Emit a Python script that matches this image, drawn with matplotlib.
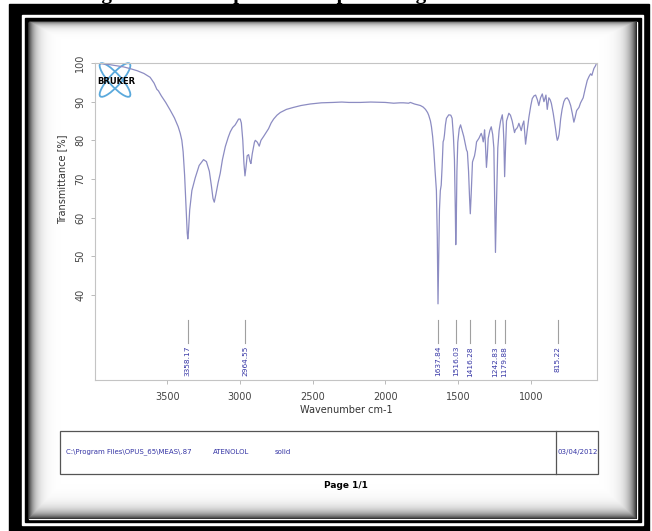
import numpy as np
import matplotlib
matplotlib.use("Agg")
import matplotlib.pyplot as plt
from matplotlib.patches import Rectangle, Ellipse

# spectrum: wavenumber (cm-1) and transmittance (%)
wavenumber = [3996, 3950, 3900, 3850, 3800, 3750, 3706, 3660, 3617, 3590, 3571, 3560,
              3540, 3510, 3479, 3450, 3424, 3410, 3399, 3390, 3380, 3370, 3362, 3358,
              3354, 3345, 3330, 3307, 3280, 3250, 3230, 3210, 3195, 3185, 3176, 3165,
              3150, 3135, 3120, 3100, 3080, 3066, 3050, 3032, 3020, 3009, 2998, 2990,
              2980, 2972, 2965, 2958, 2950, 2940, 2930, 2924, 2915, 2900, 2894, 2880,
              2867, 2855, 2837, 2820, 2803, 2785, 2768, 2745, 2722, 2680, 2633, 2580,
              2516, 2440, 2358, 2300, 2250, 2172, 2100, 2000, 1943, 1900, 1875, 1840,
              1828, 1800, 1759, 1740, 1724, 1710, 1702, 1690, 1683, 1675, 1667, 1658,
              1649, 1643, 1638, 1633, 1628, 1622, 1616, 1610, 1603, 1598, 1594, 1587,
              1580, 1564, 1550, 1541, 1532, 1525, 1519, 1516, 1512, 1508, 1502, 1492,
              1483, 1472, 1461, 1450, 1442, 1436, 1428, 1421, 1416, 1410, 1401, 1387,
              1380, 1373, 1357, 1341, 1334, 1327, 1322, 1318, 1312, 1305, 1299, 1293,
              1282, 1272, 1262, 1254, 1249, 1243, 1237, 1227, 1218, 1208, 1196, 1190,
              1185, 1180, 1173, 1167, 1151, 1140, 1128, 1120, 1112, 1105, 1098, 1090,
              1082, 1074, 1066, 1057, 1048, 1042, 1036, 1025, 1013, 1000, 990, 978,
              967, 955, 945, 933, 921, 910, 903, 896, 887, 876, 867, 859,
              846, 838, 830, 823, 818, 812, 806, 800, 795, 785, 773, 762,
              750, 738, 726, 715, 704, 695, 685, 669, 658, 640, 625, 612,
              600, 589, 580, 575, 566, 555, 548]
transmittance = [100, 99.8, 99.6, 99.3, 99.0, 98.5, 98.0, 97.3, 96.3, 94.8, 93.2, 92.8,
                 91.5, 89.8, 87.8, 85.8, 83.5, 81.8, 80.0, 77, 71, 63, 56, 54.5,
                 56, 62, 67, 70.3, 73.5, 75.0, 74.5, 72, 68, 65, 64, 66,
                 69, 71.5, 75, 78.4, 80.8, 82.2, 83.3, 84, 84.8, 85.5, 85.5, 84.5,
                 80, 74, 70.8, 73, 76, 76.3, 74.5, 74, 76.5, 79.5, 80, 79.5,
                 78.5, 80, 81, 82, 83, 84.5, 85.5, 86.5, 87.2, 88, 88.5, 89,
                 89.4, 89.7, 89.8, 89.9, 89.8, 89.8, 89.9, 89.8, 89.6, 89.7, 89.7, 89.6,
                 89.8, 89.4, 89.0, 88.6, 88.0, 87.2, 86.5, 85, 83.5, 81, 77.5, 72,
                 67, 55, 37.7, 50, 62, 67, 68.4, 73, 79.6, 80.2, 81.3, 84,
                 85.7, 86.6, 86.5, 85.7, 81, 75, 62, 53, 60, 72, 79.5, 83,
                 84, 82.5, 81, 79, 77.5, 77, 72, 65, 61, 66, 74.4, 76,
                 77.5, 79.6, 80.5, 81.8, 81, 79.6, 81, 82.7, 79, 73, 76, 80.5,
                 82.5, 83.5, 81.5, 78, 65, 51, 62, 78, 82.5, 85, 86.6, 84,
                 79.6, 70.6, 79, 85, 87, 86.5, 85, 83.5, 82, 82.8, 83, 83.5,
                 84.4, 83.5, 82.5, 84, 85, 82, 79, 82.5, 86, 89, 90.8, 91.5,
                 91.7, 90.5, 89, 91, 92, 90, 90.8, 91.7, 88, 91, 90.5, 89.6,
                 87, 85, 83, 81, 80, 80.5, 81.5, 83.5, 85.5, 88, 90, 90.8,
                 91, 90.3, 89, 87, 84.7, 86, 87.7, 88.5, 89.7, 91, 93.5, 95.5,
                 96.5, 97.2, 96.8, 97.5, 98.6, 99.3, 100]

peaks = [3358.17, 2964.55, 1637.84, 1516.03, 1416.28, 1242.83, 1179.88, 815.22]
x_ticks = [3500, 3000, 2500, 2000, 1500, 1000]
y_ticks = [40, 50, 60, 70, 80, 90, 100]

W, H = 652, 531
fig = plt.figure(figsize=(W / 100, H / 100), dpi=100)

# background in pixel coordinates: black frame, page with shadow
bg = fig.add_axes([0, 0, 1, 1])
bg.add_patch(Rectangle((9, 4), 640, 530, color="black"))
bg.add_patch(Rectangle((22, 15), 621, 510, color="white"))
bg.add_patch(Rectangle((25, 18), 616, 504, color="black"))
bg.add_patch(Rectangle((29, 22), 608, 497, color="white"))

px0, py0, px1, py1 = 29, 22, 637, 519
xx = np.arange(px0, px1) + 0.5
yy = np.arange(py0, py1) + 0.5
X, Y = np.meshgrid(xx, yy)
shade = np.maximum.reduce([
    0.75 * np.exp(-(X - px0) / 6.0),
    0.9 * np.exp(-(px1 - X) / 7.0),
    0.85 * np.exp(-(py1 - Y) / 6.5),
    0.55 * np.exp(-(Y - py0) / 3.5),
])
rgba = np.zeros(shade.shape + (4,))
rgba[..., 3] = shade
bg.imshow(rgba, extent=(px0, px1, py1, py0), interpolation="bilinear",
          aspect="auto", zorder=3)
bg.set_xlim(0, W)
bg.set_ylim(H, 0)
bg.axis("off")

# caption cut off at the top (only the descenders show)
bg.text(83, -1.5, "Figure 1: FTIR spectrum of pure drug", fontsize=15, fontweight="bold",
        family="Liberation Serif", va="baseline", ha="left")

# Bruker logo
for ang in (48, -48):
    bg.add_patch(Ellipse((115, 80), 44, 12, angle=ang, fill=False, ec="#5aa9dc",
                         lw=1.3, zorder=4))
bg.text(116, 81, "BRUKER", fontsize=6, fontweight="bold", ha="center", va="center",
        color="black", family="DejaVu Sans", zorder=5)

# info box below the plot
bg.add_patch(Rectangle((60, 431), 538, 43, fill=False, ec="#555555", lw=0.9, zorder=4))
bg.plot([556, 556], [431, 474], color="#555555", lw=0.9, zorder=4)
info_color = "#3535a5"
bg.text(66, 452, r"C:\Program Files\OPUS_65\MEAS\.87", fontsize=5, color=info_color, va="center")
bg.text(213, 452, "ATENOLOL", fontsize=5, color=info_color, va="center")
bg.text(275, 452, "solid", fontsize=5, color=info_color, va="center")
bg.text(558, 452, "03/04/2012", fontsize=5, color=info_color, va="center")
bg.text(346, 486, "Page 1/1", fontsize=6.5, fontweight="bold", ha="center", va="center")

# spectrum
ax = fig.add_axes([95 / W, 1 - 380 / H, 502 / W, 317 / H])
ax.set_facecolor("none")
ax.plot(wavenumber, transmittance, color="#8c8cc2", lw=0.9)
ax.set_xlim(3996, 545)
ax.set_ylim(18, 100)

for p in peaks:
    ax.plot([p, p], [27.6, 33.5], color="#a0a0a0", lw=0.8)
    ax.text(p, 26.8, f"{p:.2f}", rotation=90, ha="center", va="top",
            fontsize=5.3, color="#3535a5")

for s in ax.spines.values():
    s.set_color("#c4c4c4")
    s.set_linewidth(0.8)
ax.set_xticks(x_ticks)
ax.set_yticks(y_ticks)
ax.tick_params(direction="out", length=3, width=0.6, color="#b0b0b0",
               labelsize=7, labelcolor="#444444")
ax.tick_params(axis="x", pad=6)
ax.tick_params(axis="y", pad=4)
plt.setp(ax.get_yticklabels(), rotation=90, va="center")
ax.set_xlabel("Wavenumber cm-1", fontsize=7, color="#333333", labelpad=2)
ax.set_ylabel("Transmittance [%]", fontsize=7, color="#333333")
ax.yaxis.set_label_coords(-0.056, 0.634)

fig.savefig("out.png", dpi=100)
